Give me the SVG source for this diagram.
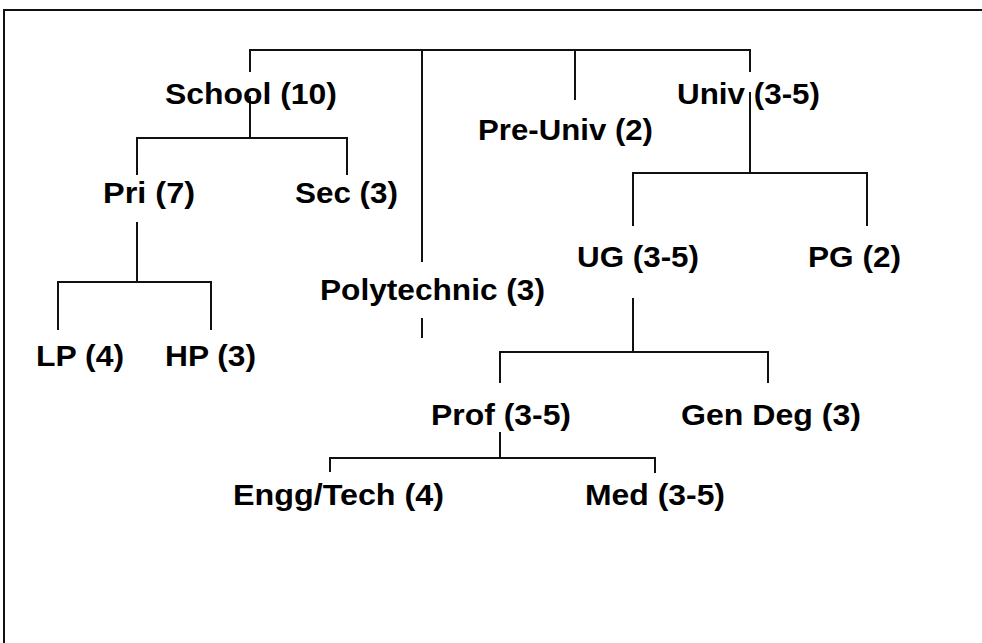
<svg xmlns="http://www.w3.org/2000/svg" width="982" height="643" viewBox="0 0 982 643">
<style>
.c{fill:none;stroke:#111;stroke-width:2}
.t{font-family:"Liberation Sans",Arial,sans-serif;font-weight:bold;font-size:30px;fill:#000}
</style>
<rect width="982" height="643" fill="#fff"/>
<g id="frame"><path class="c" d="M4,643 V10 H982" stroke-width="3"/></g>
<g id="connectors">
<path class="c" d="M250,72 V50 H750 V72 M422,50 V262 M575,50 V100 M422,318 V338"/>
<path class="c" d="M250,96 V138 M137,175 V138 H347 V175"/>
<path class="c" d="M137,222 V282 M58,330 V282 H211 V330"/>
<path class="c" d="M750,92 V173 M633,226 V173 H867 V226"/>
<path class="c" d="M633,298 V352 M500,383 V352 H768 V383"/>
<path class="c" d="M500,432 V458 M330,472 V458 H655 V473"/>
</g>
<g id="school"><text class="t" x="165" y="104" textLength="172" lengthAdjust="spacingAndGlyphs">School (10)</text></g>
<g id="univ"><text class="t" x="677" y="104" textLength="143" lengthAdjust="spacingAndGlyphs">Univ (3-5)</text></g>
<g id="preuniv"><text class="t" x="478" y="140" textLength="175" lengthAdjust="spacingAndGlyphs">Pre-Univ (2)</text></g>
<g id="pri"><text class="t" x="103" y="203" textLength="92" lengthAdjust="spacingAndGlyphs">Pri (7)</text></g>
<g id="sec"><text class="t" x="295" y="203" textLength="103" lengthAdjust="spacingAndGlyphs">Sec (3)</text></g>
<g id="ug"><text class="t" x="577" y="267" textLength="122" lengthAdjust="spacingAndGlyphs">UG (3-5)</text></g>
<g id="pg"><text class="t" x="808" y="267" textLength="93" lengthAdjust="spacingAndGlyphs">PG (2)</text></g>
<g id="poly"><text class="t" x="320" y="300" textLength="225" lengthAdjust="spacingAndGlyphs">Polytechnic (3)</text></g>
<g id="lp"><text class="t" x="36" y="366" textLength="88" lengthAdjust="spacingAndGlyphs">LP (4)</text></g>
<g id="hp"><text class="t" x="165" y="366" textLength="91" lengthAdjust="spacingAndGlyphs">HP (3)</text></g>
<g id="prof"><text class="t" x="431" y="425" textLength="140" lengthAdjust="spacingAndGlyphs">Prof (3-5)</text></g>
<g id="gendeg"><text class="t" x="681" y="425" textLength="180" lengthAdjust="spacingAndGlyphs">Gen Deg (3)</text></g>
<g id="engg"><text class="t" x="233" y="505" textLength="211" lengthAdjust="spacingAndGlyphs">Engg/Tech (4)</text></g>
<g id="med"><text class="t" x="585" y="505" textLength="140" lengthAdjust="spacingAndGlyphs">Med (3-5)</text></g>
</svg>
